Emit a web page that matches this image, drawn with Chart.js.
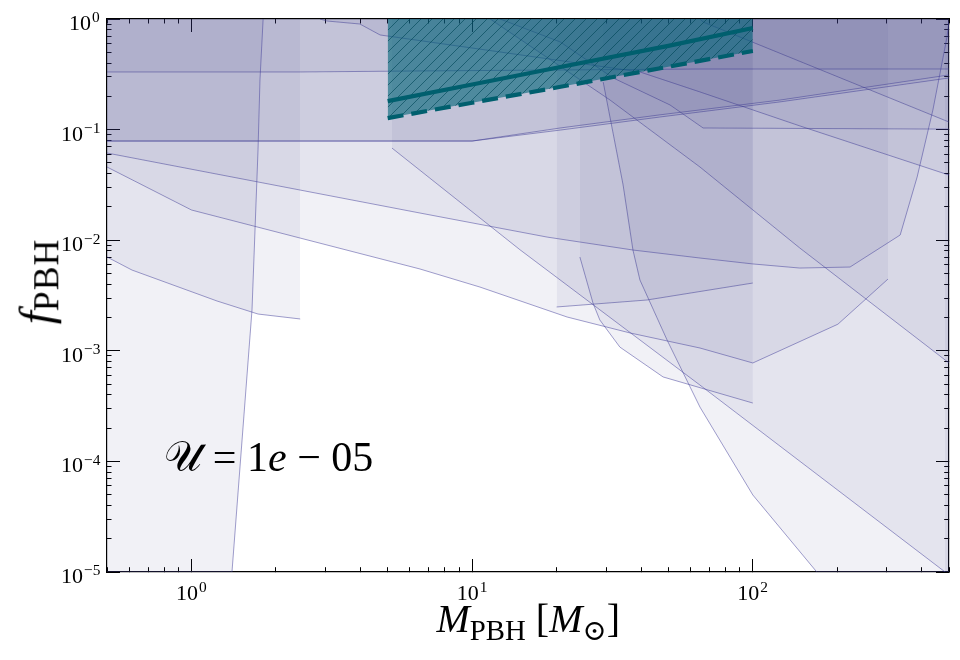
<!DOCTYPE html>
<html><head><meta charset="utf-8">
<script src="https://cdn.jsdelivr.net/npm/chart.js@4.4.1/dist/chart.umd.min.js"></script>
<style>
html,body{margin:0;padding:0;background:#fff;}
#wrap{position:relative;width:960px;height:660px;overflow:hidden;}
canvas{position:absolute;left:0;top:0;}
.lab{position:absolute;font-family:"Liberation Serif","DejaVu Serif",serif;color:#000;white-space:nowrap;line-height:1;}
.lab sub{font-size:0.72em;vertical-align:baseline;position:relative;top:0.27em;font-style:normal;}
.lab sup{font-size:0.7em;vertical-align:baseline;position:relative;top:-0.5em;margin-left:1px;}
.tk{font-size:22px;}
#xt{font-size:40px;}
#yt{font-size:47px;transform-origin:50% 50%;}
#yt sub{font-size:0.76em;top:0.2em;letter-spacing:1px;}
#ann{font-size:42px;}
</style></head><body>
<div id="wrap"><canvas id="c" width="960" height="660"></canvas>
<div id="xt" class="lab"><i>M</i><sub>PBH</sub> [<i>M</i><sub>⊙</sub>]</div>
<div id="yt" class="lab"><i>f</i><sub>PBH</sub></div>
<div id="ann" class="lab">𝒰 = 1<i>e</i> − 05</div>
</div>
<script>
// ---- tick values ----
const xTickValues = [0.5,0.6,0.7,0.8,0.9,1,2,3,4,5,6,7,8,9,10,20,30,40,50,60,70,80,90,100,200,300,400,500];
const yTickValues = [1e-5,2e-5,3e-5,4e-5,5e-5,6e-5,7e-5,8e-5,9e-5,
  1e-4,2e-4,3e-4,4e-4,5e-4,6e-4,7e-4,8e-4,9e-4,
  1e-3,2e-3,3e-3,4e-3,5e-3,6e-3,7e-3,8e-3,9e-3,
  1e-2,2e-2,3e-2,4e-2,5e-2,6e-2,7e-2,8e-2,9e-2,
  0.1,0.2,0.3,0.4,0.5,0.6,0.7,0.8,0.9,1];
const xTickLabels = [[1,'0'],[10,'1'],[100,'2']];
const yTickLabels = [[1e-5,'−5'],[1e-4,'−4'],[1e-3,'−3'],[1e-2,'−2'],[1e-1,'−1'],[1,'0']];

// ---- constraint boundaries (M_PBH, f_PBH) ----
const cA_M = [0.5, 1.394, 1.643, 1.726, 1.754, 1.80];
const cA_f = [1e-5, 1e-5, 0.00234, 0.0654, 0.281, 1];
const cB_M = [0.5, 0.614, 1.233, 1.726, 2.44];
const cB_f = [0.00705, 0.00537, 0.00282, 0.00215, 0.00194];
const cN_M = [0.5, 6.52, 18.5, 37.4, 64.8, 100, 147, 222, 335, 385, 438, 492, 500];
const cN_f = [0.0614, 0.0176, 0.01067, 0.00815, 0.0069, 0.0061, 0.0056, 0.00572, 0.01114, 0.0373, 0.150, 0.688, 0.95];
const cD_M = [0.5, 1.0, 6.52, 10.66, 21.8, 36.5, 64.8, 100, 201, 303];
const cD_f = [0.0459, 0.01875, 0.00549, 0.00377, 0.00202, 0.00145, 0.00106, 0.000776, 0.00174, 0.00445];
const cE_M = [5.18, 14.8, 64.8, 500];
const cE_f = [0.0681, 0.0082, 0.00049, 9.4e-6];
const cF_M = [24.2, 26.95, 28.5, 33.6, 47.9, 100];
const cF_f = [0.00705, 0.0027, 0.0019, 0.00108, 0.00058, 0.000337];
const cG_M = [20, 42, 100];
const cG_f = [0.00249, 0.00288, 0.0041];
const cH_M = [0.5, 10, 20.6, 46.7, 125, 500];
const cH_f = [0.0788, 0.0788, 0.099, 0.130, 0.178, 0.293];
const cH2_M = [0.5, 10, 20.6, 46.7, 125, 500];
const cH2_f = [0.0788, 0.0788, 0.1034, 0.136, 0.185, 0.312];
const cI_M = [0.5, 2.44, 6.52, 64.8, 500];
const cI_f = [0.332, 0.332, 0.339, 0.353, 0.353];
const cJ_M = [2.87, 3.04, 3.98, 4.70, 12.57, 39.6, 64.8, 147, 500];
const cJ_f = [1, 0.959, 0.901, 0.717, 0.503, 0.332, 0.219, 0.108, 0.0388];
const cK_M = [11.6, 31.0, 64.8, 147, 500];
const cK_f = [1, 0.185, 0.0459, 0.0085, 0.000776];
const cL_M = [12.57, 20.6, 31.8, 50.7, 66.5, 500];
const cL_f = [1, 0.62, 0.293, 0.167, 0.1034, 0.101];
const cLe_M = [29.3, 34.5, 37.4, 39.6, 49.5, 64.8, 100, 169, 500];
const cLe_f = [0.269, 0.0316, 0.00815, 0.00437, 0.00125, 0.00031, 4.97e-5, 1e-5, 1e-5];
const cM_M = [64.8, 66.5, 500];
const cM_f = [1, 0.939, 0.117];
const cO_M = [484, 500];
const cO_f = [1e-5, 1e-5];

// ---- this work (U = 1e-05) ----
const tealM = [5, 10, 20, 50, 100];
const tealDashed_f = [0.127, 0.175, 0.24, 0.37, 0.514];
const tealSolid_f = [0.181, 0.256, 0.362, 0.572, 0.83];

function pts(xs, ys){ return xs.map((x,i)=>({x:x, y:ys[i]})); }
function region(xs, ys, extra){
  return Object.assign({
    type:'line', data:pts(xs,ys),
    borderColor:'rgba(62,58,150,0.62)', borderWidth:0.8,
    backgroundColor:'rgba(58,58,130,0.07)',
    fill:'end', pointRadius:0, tension:0, order:10
  }, extra||{});
}
function hatchPattern(){
  const s = 11;
  const c = document.createElement('canvas'); c.width = s; c.height = s;
  const g = c.getContext('2d');
  g.fillStyle = 'rgba(0,100,120,0.6)'; g.fillRect(0,0,s,s);
  g.strokeStyle = 'rgba(0,72,88,0.7)'; g.lineWidth = 0.9;
  g.beginPath();
  g.moveTo(0,s); g.lineTo(s,0);
  g.moveTo(-1,1); g.lineTo(1,-1);
  g.moveTo(s-1,s+1); g.lineTo(s+1,s-1);
  g.stroke();
  return g.createPattern(c,'repeat');
}

const datasets = [
  {type:'line', data:pts(tealM, tealSolid_f), borderColor:'#005f6e', borderWidth:4.2,
   fill:false, pointRadius:0, tension:0, order:0},
  {type:'line', data:pts(tealM, tealDashed_f), borderColor:'#005f6e', borderWidth:4.2,
   borderDash:[16,8], fill:'end', backgroundColor:hatchPattern(), pointRadius:0, tension:0, order:1},
  region(cA_M,cA_f), region(cB_M,cB_f), region(cN_M,cN_f), region(cD_M,cD_f),
  region(cE_M,cE_f), region(cF_M,cF_f), region(cG_M,cG_f), region(cH_M,cH_f),
  region(cH2_M,cH2_f), region(cI_M,cI_f), region(cJ_M,cJ_f), region(cK_M,cK_f),
  region(cL_M,cL_f), region(cLe_M,cLe_f), region(cM_M,cM_f),
  region(cO_M,cO_f,{borderWidth:0})
];

function isMajor(v){ const l = Math.log10(v); return Math.abs(l - Math.round(l)) < 1e-6; }

function makeAxis(position, min, max, vals, size){
  const innerFirst = (position === 'top' || position === 'left');
  const horiz = (position === 'top' || position === 'bottom');
  return {
    type:'logarithmic', position:position, min:min, max:max, display:true,
    afterBuildTicks:(ax)=>{ ax.ticks = vals.map(v=>({value:v, major:false})); },
    afterFit:(ax)=>{
      if(horiz) ax.height = size; else ax.width = size;
      ax.paddingLeft = 0; ax.paddingRight = 0; ax.paddingTop = 0; ax.paddingBottom = 0;
    },
    ticks:{display:false, autoSkip:false},
    grid:{display:true, drawOnChartArea:false, drawTicks:true, tickLength:-13, tickColor:'#000', tickWidth:1,
          tickBorderDash:(ctx)=> (ctx.tick && isMajor(ctx.tick.value)) ? [] : (innerFirst ? [0,8.5,5,100] : [5,100])},
    border:{display:true, color:'#000', width:1.2}
  };
}

const tickEls = [];
function tickEl(exp){
  const d = document.createElement('div');
  d.className = 'lab tk';
  d.innerHTML = '10<sup>' + exp + '</sup>';
  document.getElementById('wrap').appendChild(d);
  return d;
}

const overlay = {
  id:'overlay',
  afterRender(chart){
    const a = chart.chartArea, sx = chart.scales.x, sy = chart.scales.y;
    if(!tickEls.length){
      xTickLabels.forEach(t=>tickEls.push({axis:'x', v:t[0], el:tickEl(t[1])}));
      yTickLabels.forEach(t=>tickEls.push({axis:'y', v:t[0], el:tickEl(t[1])}));
    }
    tickEls.forEach(t=>{
      const w = t.el.offsetWidth;
      if(t.axis === 'x'){
        t.el.style.left = (sx.getPixelForValue(t.v) - w/2) + 'px';
        t.el.style.top = (a.bottom + 10) + 'px';
      } else {
        t.el.style.left = (a.left - 7 - w) + 'px';
        t.el.style.top = (sy.getPixelForValue(t.v) - 7) + 'px';
      }
    });
    const xt = document.getElementById('xt');
    xt.style.left = ((a.left + a.right)/2 - xt.offsetWidth/2) + 'px';
    xt.style.top = (a.bottom + 27) + 'px';
    const yt = document.getElementById('yt');
    const cy = sy.getPixelForValue(0.0042);
    yt.style.left = (36 - yt.offsetWidth/2) + 'px';
    yt.style.top = (cy - yt.offsetHeight/2) + 'px';
    yt.style.transform = 'rotate(-90deg)';
    const ann = document.getElementById('ann');
    ann.style.left = sx.getPixelForValue(0.8) + 'px';
    ann.style.top = (sy.getPixelForValue(1e-4) - 25) + 'px';
  }
};

new Chart(document.getElementById('c'), {
  type:'line',
  data:{datasets:datasets},
  options:{
    responsive:false, animation:false, devicePixelRatio:1,
    layout:{padding:{left:0, top:19, right:11, bottom:0}},
    plugins:{legend:{display:false}, tooltip:{enabled:false}},
    scales:{
      x: makeAxis('bottom', 0.5, 500, xTickValues, 88),
      x2: makeAxis('top', 0.5, 500, xTickValues, 0),
      y: makeAxis('left', 1e-5, 1, yTickValues, 107),
      y2: makeAxis('right', 1e-5, 1, yTickValues, 0)
    }
  },
  plugins:[overlay]
});
</script>
</body></html>
